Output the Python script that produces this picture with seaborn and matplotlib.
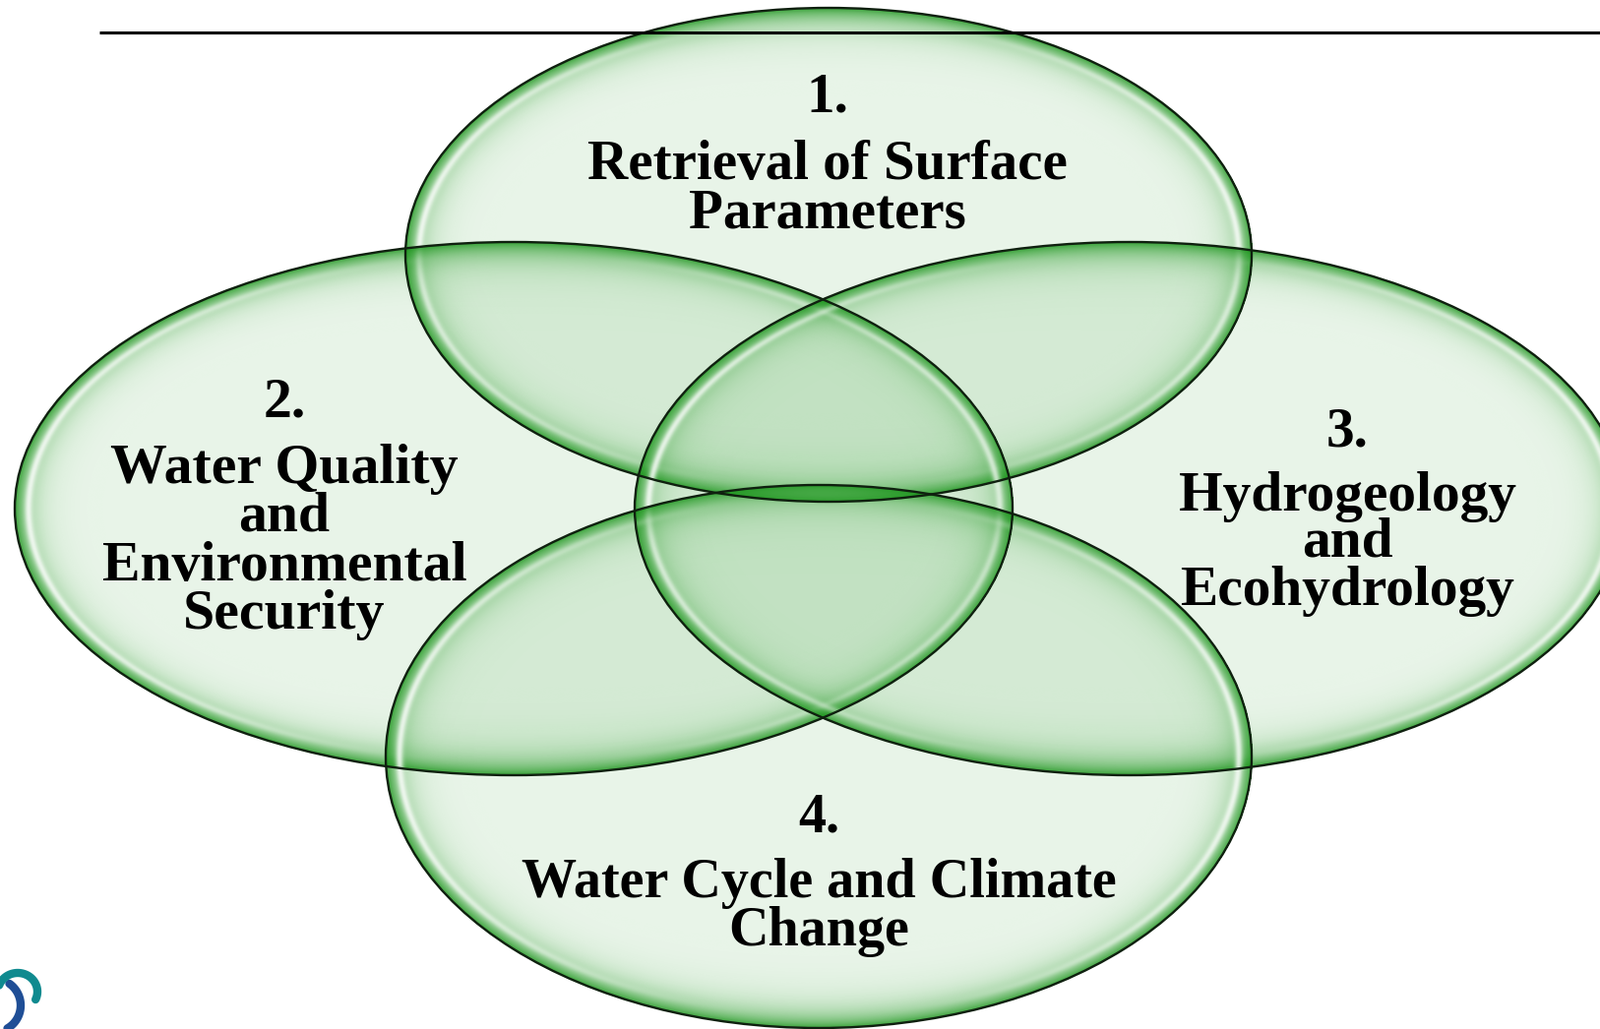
import numpy as np
import matplotlib
matplotlib.use("Agg")
import matplotlib.pyplot as plt
from matplotlib.patches import Ellipse
import seaborn as sns

# ---------------- data ----------------
numbers = ["1.", "2.", "3.", "4."]
titles = [
    ["Retrieval of Surface", "Parameters"],
    ["Water Quality", "and", "Environmental", "Security"],
    ["Hydrogeology", "and", "Ecohydrology"],
    ["Water Cycle and Climate", "Change"],
]

# ---------------- layout (pixels, y downwards) ----------------
W, H = 1626, 1046
ell_cx = [842, 522, 1148, 832]
ell_cy = [259, 517, 517, 769]
ell_w = [860, 1014, 1006, 880]
ell_h = [502, 542, 542, 552]

text_x = [841, 289, 1369, 832]
num_base = [114, 423, 453, 845]
line_base = [[182, 231], [491, 540, 590, 639], [519, 566, 615], [912, 961]]
target_w = [487, 371, 343, 605]   # width of widest line in each group

sns.set_theme(style="white")
plt.rcParams["font.family"] = ["Liberation Serif", "DejaVu Serif"]

fig = plt.figure(figsize=(W / 100, H / 100), dpi=100)
ax = fig.add_axes([0, 0, 1, 1])
ax.set_xlim(0, W)
ax.set_ylim(H, 0)
ax.axis("off")

green = np.array([30, 150, 30]) / 255.0


def bubble(cx, cy, w, h):
    a, b = w / 2.0, h / 2.0
    x0, x1 = int(np.floor(cx - a)) - 1, int(np.ceil(cx + a)) + 1
    y0, y1 = int(np.floor(cy - b)) - 1, int(np.ceil(cy + b)) + 1
    xs = np.arange(x0, x1) + 0.5
    ys = np.arange(y0, y1) + 0.5
    X, Y = np.meshgrid(xs, ys)
    dx, dy = X - cx, Y - cy
    r = np.sqrt((dx / a) ** 2 + (dy / b) ** 2)
    rho = np.sqrt(dx ** 2 + dy ** 2)
    rho_edge = np.where(r > 0, rho / np.maximum(r, 1e-9), min(a, b))
    d = (1 - r) * rho_edge
    inside = r <= 1.0
    ga = 0.10 + 0.78 * np.exp(-np.clip(d, 0, None) / 15.0)
    ang = np.arctan2(dy, dx)
    side = np.abs(np.cos(ang)) ** 3
    hw = 0.8 * np.exp(-((d - 14.0) / 4.0) ** 2) * side
    A = 1 - (1 - ga) * (1 - hw)
    C = (np.ones(3)[None, None, :] * hw[..., None]
         + green[None, None, :] * (ga * (1 - hw))[..., None]) / A[..., None]
    img = np.zeros(X.shape + (4,))
    img[..., :3] = C
    img[..., 3] = np.where(inside, A, 0.0)
    ax.imshow(img, extent=(x0, x1, y1, y0), origin="upper",
              interpolation="bilinear", zorder=1)


for cx, cy, w, h in zip(ell_cx, ell_cy, ell_w, ell_h):
    bubble(cx, cy, w, h)

for cx, cy, w, h in zip(ell_cx, ell_cy, ell_w, ell_h):
    ax.add_patch(Ellipse((cx, cy), w, h, facecolor="none",
                         edgecolor="#0f200f", lw=1.7, zorder=3))

ax.set_xlim(0, W)
ax.set_ylim(H, 0)

# top rule
ax.plot([101, W], [33, 33], color="black", lw=2.2, zorder=4,
        solid_capstyle="butt")

# logo fragment bottom-left
t = np.linspace(np.radians(-55), np.radians(60), 60)
ax.plot(-6 + 27 * np.cos(t), 1022 + 27 * np.sin(t), color="#1f4e96",
        lw=6, zorder=4, solid_capstyle="round")
t2 = np.linspace(np.radians(200), np.radians(385), 60)
ax.plot(18 + 20 * np.cos(t2), 1008 + 19 * np.sin(t2), color="#0f8a8f",
        lw=6, zorder=4, solid_capstyle="round")

# texts
fig.canvas.draw()
renderer = fig.canvas.get_renderer()
base_fs = 40
for i in range(4):
    objs = []
    for line, yb in zip(titles[i], line_base[i]):
        objs.append(ax.text(text_x[i], yb, line, ha="center", va="baseline",
                            fontsize=base_fs, fontweight="bold",
                            color="black", zorder=5))
    num = ax.text(text_x[i], num_base[i], numbers[i], ha="center",
                  va="baseline", fontsize=base_fs, fontweight="bold",
                  color="black", zorder=5)
    widest = max(o.get_window_extent(renderer).width for o in objs)
    fs = base_fs * target_w[i] / widest
    for o in objs + [num]:
        o.set_fontsize(fs)

fig.savefig("out.png", dpi=100)
